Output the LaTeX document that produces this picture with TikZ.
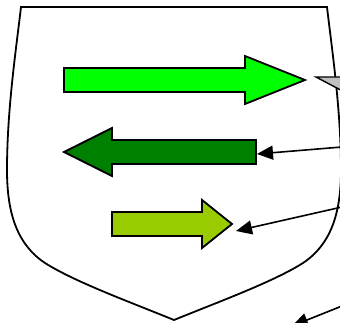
\documentclass[tikz,border=0pt]{standalone}
\usetikzlibrary{arrows.meta}
\definecolor{brightgreen}{RGB}{0,255,0}
\definecolor{darkgreen}{RGB}{0,128,0}
\definecolor{limegreen}{RGB}{153,204,0}
\definecolor{calloutgray}{RGB}{192,192,192}
\tikzset{
  outline/.style={draw=black, line width=1.8pt, line join=miter},
  shieldline/.style={draw=black, line width=1.8pt},
  pointer/.style={draw=black, line width=1.6pt, -{Triangle[length=16pt,width=14pt]}}
}
\begin{document}
\begin{tikzpicture}[x=1pt,y=-1pt]
\useasboundingbox (0,0) rectangle (340,323);
% shield
\draw[shieldline] (21,7) -- (327,7)
  .. controls (332,50) and (341,110) .. (341,170)
  .. controls (341,215) and (330,245) .. (303,263)
  .. controls (273,282) and (218,302) .. (174,320)
  .. controls (130,302) and (75,282) .. (45,263)
  .. controls (18,245) and (7,215) .. (7,170)
  .. controls (7,110) and (16,50) .. (21,7) -- cycle;
% big bright green arrow (right)
\draw[outline, fill=brightgreen] (64,68) -- (245,68) -- (245,56) -- (305,80) -- (245,104) -- (245,92) -- (64,92) -- cycle;
% dark green arrow (left)
\draw[outline, fill=darkgreen] (256,140) -- (112,140) -- (112,128) -- (64,152) -- (112,176) -- (112,164) -- (256,164) -- cycle;
% lime arrow (right)
\draw[outline, fill=limegreen] (112,212) -- (202,212) -- (202,200) -- (232,224) -- (202,248) -- (202,236) -- (112,236) -- cycle;
% gray callout pointer
\draw[line width=1.4pt, fill=calloutgray, line join=miter] (316,77) -- (350,77) -- (350,95) -- cycle;
% named points
\coordinate (tipA) at (257,154);
\coordinate (tipB) at (236,231);
\coordinate (tipC) at (292,326);
\coordinate (srcA) at (342,147);
\coordinate (srcB) at (342,207);
\coordinate (srcC) at (342,306);
\draw[pointer] (srcA) -- (tipA);
\draw[pointer] (srcB) -- (tipB);
\draw[pointer] (srcC) -- (tipC);
\end{tikzpicture}
\end{document}
